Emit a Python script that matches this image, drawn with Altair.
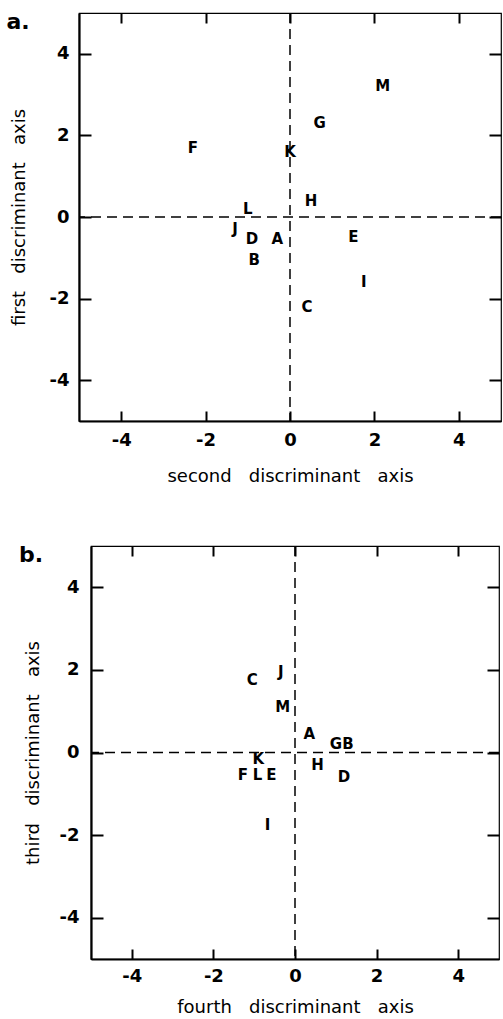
import altair as alt
import pandas as pd

# Panel a: group centroids on the first two discriminant axes
groups_a = ["A", "B", "C", "D", "E", "F", "G", "H", "I", "J", "K", "L", "M"]
second_axis = [-0.3, -0.85, 0.4, -0.9, 1.5, -2.3, 0.7, 0.5, 1.75, -1.3, 0.0, -1.0, 2.2]
first_axis = [-0.55, -1.05, -2.2, -0.55, -0.5, 1.7, 2.3, 0.4, -1.6, -0.3, 1.6, 0.2, 3.2]

# Panel b: group centroids on the third and fourth discriminant axes
groups_b = ["A", "B", "C", "D", "E", "F", "G", "H", "I", "J", "K", "L", "M"]
fourth_axis = [0.35, 1.3, -1.05, 1.2, -0.58, -1.28, 1.0, 0.55, -0.67, -0.35, -0.9, -0.92, -0.3]
third_axis = [0.45, 0.2, 1.75, -0.6, -0.55, -0.55, 0.2, -0.3, -1.75, 1.95, -0.15, -0.55, 1.1]

tick_values = [-4, -2, 0, 2, 4]
domain = [-5, 5]

FONT = "DejaVu Sans"
LABEL_EXPR = "datum.value < 0 ? '-' + (-datum.value) : '' + datum.value"
SP = " \u00a0\u00a0"


def tick_axis(orient, offset, size):
    # an unlabelled axis moved across the plot so that its ticks point inward
    return alt.Axis(orient=orient, offset=offset, values=tick_values,
                    ticks=True, tickSize=size, tickWidth=2, tickColor="black",
                    labels=False, domain=False, grid=False, title="")


def panel(groups, xv, yv, xtitle, ytitle, tag, w, h,
          ylab_pad, ytitle_x, xlab_pad, xtitle_y, tag_dx, tag_dy):
    lo, hi = domain
    df = pd.DataFrame({"g": groups, "x": xv, "y": yv})
    zero = pd.DataFrame({"z": [0]})
    tagdf = pd.DataFrame({"tag": [tag], "tx": [lo], "ty": [hi]})

    sx = alt.Scale(domain=domain, nice=False, zero=False)
    sy = alt.Scale(domain=domain, nice=False, zero=False)

    common = dict(values=tick_values, ticks=False, grid=False, domain=True,
                  domainColor="black", domainWidth=2.2,
                  labelFont=FONT, labelFontSize=18, labelFontWeight="bold",
                  labelColor="black", labelExpr=LABEL_EXPR,
                  labelFlush=False, labelOverlap=False,
                  titleFont=FONT, titleFontSize=18,
                  titleFontWeight="normal", titleColor="black",
                  titleBaseline="middle")
    xaxis = alt.Axis(orient="bottom", title=xtitle, labelPadding=xlab_pad,
                     titleY=xtitle_y, **common)
    yaxis = alt.Axis(orient="left", title=ytitle, labelPadding=ylab_pad,
                     titleX=ytitle_x, **common)

    dash = [10, 6]
    # vertical zero line; its axis gives the inward ticks along the top edge
    vline = alt.Chart(zero).mark_rule(color="black", strokeWidth=1.5, strokeDash=dash).encode(
        x=alt.X("z:Q", scale=sx, axis=tick_axis("bottom", -h, 10))
    )
    # horizontal zero line; its axis gives the inward ticks along the left edge
    hline = alt.Chart(zero).mark_rule(color="black", strokeWidth=1.5, strokeDash=dash).encode(
        y=alt.Y("z:Q", scale=sy, axis=tick_axis("right", -w, 12))
    )

    letters = alt.Chart(df).mark_text(
        font=FONT, fontSize=15, fontWeight="bold", color="black",
        align="center", baseline="middle"
    ).encode(
        x=alt.X("x:Q", scale=sx, axis=xaxis),
        y=alt.Y("y:Q", scale=sy, axis=yaxis),
        text="g:N",
    )

    # panel tag; its axes give the inward ticks along the bottom and right edges
    tag_mark = alt.Chart(tagdf).mark_text(
        font=FONT, fontSize=22, fontWeight="bold", color="black",
        align="center", baseline="middle", dx=tag_dx, dy=tag_dy
    ).encode(
        x=alt.X("tx:Q", scale=sx, axis=tick_axis("top", -h, 10)),
        y=alt.Y("ty:Q", scale=sy, axis=tick_axis("left", -w, 12)),
        text="tag:N",
    )

    return alt.layer(vline, hline, letters, tag_mark).resolve_axis(
        x="independent", y="independent"
    ).properties(width=w, height=h,
                 view=alt.ViewBackground(stroke="black", strokeWidth=1.2))


panel_a = panel(groups_a, second_axis, first_axis,
                "second" + SP + "discriminant" + SP + "axis",
                "first" + SP + "discriminant" + SP + "axis",
                "a.", 422, 408,
                ylab_pad=10, ytitle_x=-60, xlab_pad=10, xtitle_y=55,
                tag_dx=-61, tag_dy=9)

panel_b = panel(groups_b, fourth_axis, third_axis,
                "fourth" + SP + "discriminant" + SP + "axis",
                "third" + SP + "discriminant" + SP + "axis",
                "b.", 408, 413,
                ylab_pad=12, ytitle_x=-58, xlab_pad=8, xtitle_y=48,
                tag_dx=-60, tag_dy=9)

spacer = alt.Chart(pd.DataFrame({"v": [0]})).mark_point(opacity=0).encode(
    x=alt.X("v:Q", axis=None), y=alt.Y("v:Q", axis=None)
).properties(width=12, height=413, view=alt.ViewBackground(strokeOpacity=0))

row_b = alt.hconcat(spacer, panel_b, spacing=0, bounds="flush")

chart = alt.vconcat(panel_a, row_b, spacing=125, bounds="flush").properties(
    padding={"left": 5, "top": 10, "right": 0, "bottom": 0},
    background="white",
)

chart.save("out.html", embed_options={"renderer": "svg", "actions": False})
